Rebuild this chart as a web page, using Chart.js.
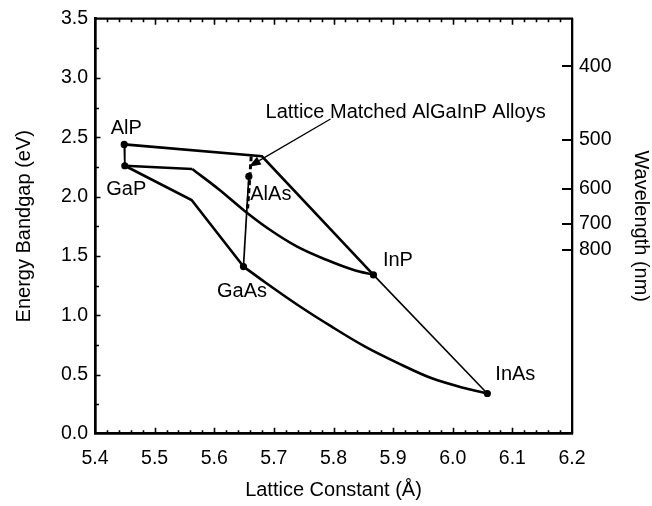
<!DOCTYPE html>
<html>
<head>
<meta charset="utf-8">
<script src="https://cdn.jsdelivr.net/npm/chart.js@4.4.1/dist/chart.umd.min.js"></script>
<style>
  html, body { margin: 0; padding: 0; background: #fff; }
  canvas { display: block; }
</style>
</head>
<body>
<canvas id="chart" width="652" height="506"></canvas>
<script>
const FONT = '"Liberation Sans", Arial, Helvetica, sans-serif';
const HC = 1240; // eV*nm, bandgap <-> wavelength

// binary compounds: lattice constant (Å) and bandgap (eV)
const compounds = ['AlP', 'GaP', 'AlAs', 'GaAs', 'InP', 'InAs'];
const latticeConst = [5.449, 5.450, 5.658, 5.649, 5.867, 6.058];
const bandgap = [2.44, 2.26, 2.17, 1.41, 1.34, 0.34];

// ternary boundaries of the quaternary region
const alInPA = [5.449, 5.680, 5.867];
const alInPE = [2.44, 2.34, 1.34];
// GaInP: straight indirect part up to the crossover, then the direct-gap bow
const gaInPA = [5.450, 5.563, 5.609, 5.651, 5.694, 5.739, 5.789, 5.834, 5.867];
const gaInPE = [2.26, 2.233, 2.056, 1.879, 1.718, 1.578, 1.465, 1.381, 1.34];
const gaAsPA = [5.450, 5.562, 5.649];
const gaAsPE = [2.26, 1.971, 1.41];
const inGaAsA = [5.649, 5.684, 5.740, 5.797, 5.853, 5.909, 5.965, 6.021, 6.058];
const inGaAsE = [1.41, 1.282, 1.086, 0.903, 0.735, 0.594, 0.468, 0.384, 0.34];

// AlGaInP lattice matched to GaAs
const matchedA = [5.662, 5.656];
const matchedE = [2.34, 1.90];

// annotation arrow (tail, head)
const arrowA = [5.795, 5.658];
const arrowE = [2.654, 2.252];
const arrowText = 'Lattice Matched AlGaInP Alloys';

// axis ticks
const latticeTicks = [5.4, 5.5, 5.6, 5.7, 5.8, 5.9, 6.0, 6.1, 6.2];
const energyTicks = [0, 0.5, 1.0, 1.5, 2.0, 2.5, 3.0, 3.5];
const wavelengthTicks = [400, 500, 600, 700, 800];

const pts = (xs, ys) => xs.map((x, i) => ({ x, y: ys[i] }));
const pair = (a, b) => pts([latticeConst[a], latticeConst[b]], [bandgap[a], bandgap[b]]);

function line(data, width, extra) {
  return Object.assign({
    data, showLine: true, borderColor: '#000', borderWidth: width,
    pointRadius: 0, fill: false
  }, extra || {});
}

const curve = { cubicInterpolationMode: 'monotone' };

const datasets = [
  line(pts(alInPA, alInPE), 2.6),
  line(pts(gaInPA.slice(0, 2), gaInPE.slice(0, 2)), 2.6),
  line(pts(gaInPA.slice(1), gaInPE.slice(1)), 2.6, curve),
  line(pts(gaAsPA, gaAsPE), 2.6),
  line(pts(inGaAsA, inGaAsE), 2.6, curve),
  line(pair(0, 1), 1.7),
  line(pair(2, 3), 1.7),
  line(pair(4, 5), 1.6),
  line(pts(matchedA, matchedE), 3, { borderDash: [5, 3] }),
  {
    data: pts(latticeConst, bandgap), showLine: false,
    pointRadius: 3.6, pointBackgroundColor: '#000', pointBorderWidth: 0
  }
];

// label placement around each compound dot (px)
const labelOffset = {
  AlP: [2, -17], GaP: [1.5, 22], AlAs: [22, 16.5],
  GaAs: [-1.5, 23.5], InP: [24.5, -16], InAs: [28, -20]
};

const decorations = {
  id: 'decorations',
  afterDatasetsDraw(chart) {
    const { ctx, scales: { x, y } } = chart;
    ctx.save();
    ctx.fillStyle = '#000';
    ctx.strokeStyle = '#000';
    ctx.font = '20px ' + FONT;
    ctx.textAlign = 'center';
    ctx.textBaseline = 'alphabetic';
    compounds.forEach((name, i) => {
      const px = x.getPixelForValue(latticeConst[i]);
      const py = y.getPixelForValue(bandgap[i]);
      const o = labelOffset[name];
      ctx.fillText(name, px + o[0], py + o[1] + 7);
    });

    // arrow to the lattice matched line
    const x0 = x.getPixelForValue(arrowA[0]), y0 = y.getPixelForValue(arrowE[0]);
    const x1 = x.getPixelForValue(arrowA[1]), y1 = y.getPixelForValue(arrowE[1]);
    const ang = Math.atan2(y1 - y0, x1 - x0);
    const head = 12, half = 4.5;
    const bx = x1 - head * Math.cos(ang), by = y1 - head * Math.sin(ang);
    ctx.lineWidth = 1.3;
    ctx.beginPath();
    ctx.moveTo(x0, y0);
    ctx.lineTo(bx, by);
    ctx.stroke();
    ctx.beginPath();
    ctx.moveTo(x1, y1);
    ctx.lineTo(bx + half * Math.sin(ang), by - half * Math.cos(ang));
    ctx.lineTo(bx - half * Math.sin(ang), by + half * Math.cos(ang));
    ctx.closePath();
    ctx.fill();
    ctx.textAlign = 'left';
    ctx.fillText(arrowText, x0 - 65, y0 - 1);
    ctx.restore();
  },
  afterDraw(chart) {
    const { ctx, chartArea: a, scales: { x, y, y2 } } = chart;
    ctx.save();
    ctx.strokeStyle = '#000';
    // top frame line
    ctx.lineWidth = 2.2;
    ctx.beginPath();
    ctx.moveTo(a.left - 1, a.top);
    ctx.lineTo(a.right + 1, a.top);
    ctx.stroke();

    ctx.lineWidth = 1.6;
    ctx.beginPath();
    // lattice constant ticks: 4 minor per major, bottom and top, pointing in
    const first = latticeTicks[0];
    const n = (latticeTicks.length - 1) * 5;
    for (let i = 1; i < n; i++) {
      const px = Math.round(x.getPixelForValue(first + i * 0.02)) + 0.5;
      const len = i % 5 === 0 ? 6 : 3.5;
      ctx.moveTo(px, a.bottom);
      ctx.lineTo(px, a.bottom - len);
      ctx.moveTo(px, a.top);
      ctx.lineTo(px, a.top + len);
    }
    // energy ticks on the left, minor halfway
    for (let i = 1; i < energyTicks.length * 2 - 2; i++) {
      const v = energyTicks[0] + i * 0.25;
      const py = Math.round(y.getPixelForValue(v)) + 0.5;
      const len = i % 2 === 0 ? 5.5 : 4;
      ctx.moveTo(a.left, py);
      ctx.lineTo(a.left + len, py);
    }
    ctx.stroke();

    // wavelength ticks on the right
    ctx.lineWidth = 2;
    ctx.beginPath();
    wavelengthTicks.forEach(w => {
      const py = Math.round(y2.getPixelForValue(HC / w));
      ctx.moveTo(a.right, py);
      ctx.lineTo(a.right - 10, py);
    });
    ctx.stroke();
    ctx.restore();
  }
};

Chart.defaults.color = '#000';
Chart.defaults.font.family = FONT;

new Chart(document.getElementById('chart'), {
  type: 'scatter',
  data: { datasets },
  options: {
    responsive: false,
    animation: false,
    layout: { padding: { top: 18.7, left: 0, right: 0, bottom: 0 } },
    plugins: { legend: { display: false }, tooltip: { enabled: false } },
    scales: {
      x: {
        type: 'linear', position: 'bottom', min: 5.4, max: 6.2,
        afterBuildTicks: s => { s.ticks = latticeTicks.map(v => ({ value: v })); },
        afterFit: s => { s.height = 72.2; },
        ticks: {
          callback: v => v.toFixed(1), font: { size: 19.5 }, padding: 12.8,
          maxRotation: 0, autoSkip: false
        },
        grid: { display: false, drawTicks: false },
        border: { display: true, color: '#000', width: 2.7 },
        title: {
          display: true, text: 'Lattice Constant (Å)',
          font: { size: 20, lineHeight: 1 }, padding: { top: 0, bottom: 5.5 }
        }
      },
      y: {
        type: 'linear', position: 'left', min: 0, max: 3.5,
        afterBuildTicks: s => { s.ticks = energyTicks.map(v => ({ value: v })); },
        afterFit: s => { s.width = 95; },
        ticks: { callback: v => v.toFixed(1), font: { size: 19.5 }, padding: 7 },
        grid: { display: false, drawTicks: false },
        border: { display: true, color: '#000', width: 2.7 },
        title: {
          display: true, text: 'Energy Bandgap (eV)',
          font: { size: 20, lineHeight: 1 }, padding: { top: 14, bottom: 0 }
        }
      },
      y2: {
        type: 'linear', position: 'right', min: 0, max: 3.5,
        afterBuildTicks: s => { s.ticks = wavelengthTicks.map(w => ({ value: HC / w })); },
        afterFit: s => { s.width = 80; },
        ticks: { callback: (v, i) => wavelengthTicks[i], font: { size: 19.5 }, padding: 7 },
        grid: { display: false, drawTicks: false },
        border: { display: true, color: '#000', width: 2.3 },
        title: {
          display: true, text: 'Wavelength (nm)',
          font: { size: 20, lineHeight: 1 }, padding: { top: 1, bottom: 0 }
        }
      }
    }
  },
  plugins: [decorations]
});
</script>
</body>
</html>
